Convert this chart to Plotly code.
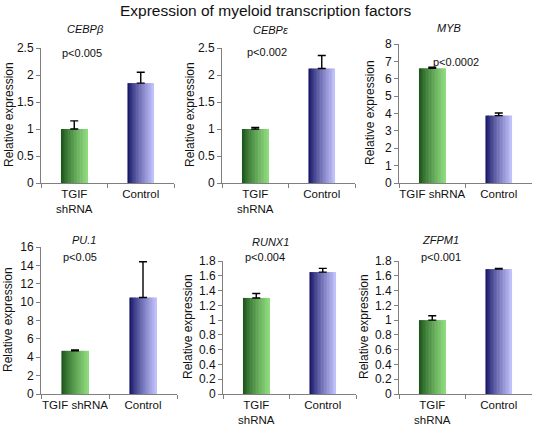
import plotly.graph_objects as go

W, H = 533, 427

title_text = "Expression of myeloid transcription factors"
genes = ["CEBPβ", "CEBPε", "MYB", "PU.1", "RUNX1", "ZFPM1"]
p_values = ["p<0.005", "p<0.002", "p<0.0002", "p<0.05", "p<0.004", "p<0.001"]
tgif_values = [1.0, 1.0, 6.6, 4.7, 1.3, 1.0]
tgif_errors = [0.15, 0.03, 0.07, 0.1, 0.06, 0.06]
control_values = [1.85, 2.12, 3.88, 10.5, 1.65, 1.69]
control_errors = [0.2, 0.24, 0.15, 3.9, 0.05, 0.01]
y_max = [2.5, 2.5, 8, 16, 1.8, 1.8]
y_step = [0.5, 0.5, 1, 2, 0.2, 0.2]
tick_labels = [
    ["TGIF<br>shRNA", "Control"],
    ["TGIF<br>shRNA", "Control"],
    ["TGIF shRNA", "Control"],
    ["TGIF shRNA", "Control"],
    ["TGIF<br>shRNA", "Control"],
    ["TGIF<br>shRNA", "Control"],
]
y_title = "Relative expression"

# layout (pixel) per panel: x0, x1, ytop, ybottom
panel_px = [
    (41, 174, 48, 183),
    (222, 355, 48, 183),
    (399, 532, 44, 183),
    (41, 177, 247, 394),
    (223, 356, 261, 394),
    (399, 532, 261, 394),
]
ytitle_px = [(9, 115), (190, 115), (370, 113), (8, 320), (188, 327), (364, 327)]
gene_px = [(85, 29), (270, 30), (449, 28), (84, 240), (270, 242), (440, 240)]
p_px = [(82, 53), (267, 52), (456, 62), (80, 257), (265, 257), (441, 257)]

FONT = "Liberation Sans, Arial, sans-serif"
AXC = "#7f7f7f"

green_l, green_r = (22, 78, 22), (145, 222, 128)
blue_l, blue_r = (14, 14, 95), (196, 196, 255)


def mix(a, b, t):
    return "rgb(%d,%d,%d)" % tuple(round(a[k] + (b[k] - a[k]) * t) for k in range(3))


fig = go.Figure()
K = 18
BW = 0.4
for p in range(6):
    ax = "" if p == 0 else str(p + 1)
    cats = tick_labels[p]
    vals = [tgif_values[p], control_values[p]]
    errs = [tgif_errors[p], control_errors[p]]
    for i in range(K):
        t = (i + 0.5) / K
        t = t ** 0.8
        sw = BW / K
        fig.add_trace(go.Bar(
            x=cats, y=vals,
            width=sw * (1.4 if i < K - 1 else 1.0),
            offset=-BW / 2 + i * sw,
            marker=dict(color=[mix(green_l, green_r, t), mix(blue_l, blue_r, t)], line=dict(width=0)),
            xaxis="x" + ax, yaxis="y" + ax, showlegend=False, hoverinfo="skip",
        ))
    fig.add_trace(go.Scatter(
        x=cats, y=vals, mode="markers",
        marker=dict(color="rgba(0,0,0,0)", size=1),
        error_y=dict(type="data", symmetric=False, array=errs, arrayminus=[0, 0],
                     color="black", thickness=1.4, width=4),
        xaxis="x" + ax, yaxis="y" + ax, showlegend=False, hoverinfo="skip",
    ))
    x0, x1, yt, yb = panel_px[p]
    fig.layout["xaxis" + ax] = dict(
        domain=[x0 / W, x1 / W], anchor="y" + ax, type="category", automargin=False,
        range=[-0.5, 1.5], showline=True, linecolor=AXC, linewidth=1,
        ticks="outside", tickson="boundaries", ticklen=4, tickcolor=AXC,
        tickangle=0, showgrid=False, tickfont=dict(size=11.5, color="#111", family=FONT),
    )
    fig.layout["yaxis" + ax] = dict(
        domain=[1 - yb / H, 1 - yt / H], anchor="x" + ax, automargin=False,
        range=[0, y_max[p]], dtick=y_step[p], tick0=0, showline=True, linecolor=AXC,
        linewidth=1, ticks="outside", ticklen=4, tickcolor=AXC, showgrid=False,
        zeroline=False, tickfont=dict(size=12, color="#111", family=FONT),
    )
    tx, ty = ytitle_px[p]
    fig.add_annotation(text=y_title, x=tx / W, y=1 - ty / H, xref="paper", yref="paper",
                       textangle=-90, showarrow=False, xanchor="center", yanchor="middle",
                       font=dict(size=12, color="#111", family=FONT))
    gx, gy = gene_px[p]
    fig.add_annotation(text="<i>%s</i>" % genes[p], x=gx / W, y=1 - gy / H, xref="paper", yref="paper",
                       showarrow=False, xanchor="center", yanchor="middle",
                       font=dict(size=11, color="#111", family=FONT))
    px_, py_ = p_px[p]
    fig.add_annotation(text=p_values[p], x=px_ / W, y=1 - py_ / H, xref="paper", yref="paper",
                       showarrow=False, xanchor="center", yanchor="middle",
                       font=dict(size=11, color="#111", family=FONT))

fig.add_annotation(text=title_text, x=265 / W, y=1 - 10 / H, xref="paper", yref="paper",
                   showarrow=False, xanchor="center", yanchor="middle",
                   font=dict(size=15.5, color="#111", family=FONT))

fig.update_layout(
    width=W, height=H, margin=dict(l=0, r=0, t=0, b=0, autoexpand=False),
    paper_bgcolor="white", plot_bgcolor="white", barmode="overlay",
    font=dict(family=FONT),
)
fig.write_html("out.html", config={"displayModeBar": False},
               post_script="document.body.style.margin='0';document.body.style.overflow='hidden';")
